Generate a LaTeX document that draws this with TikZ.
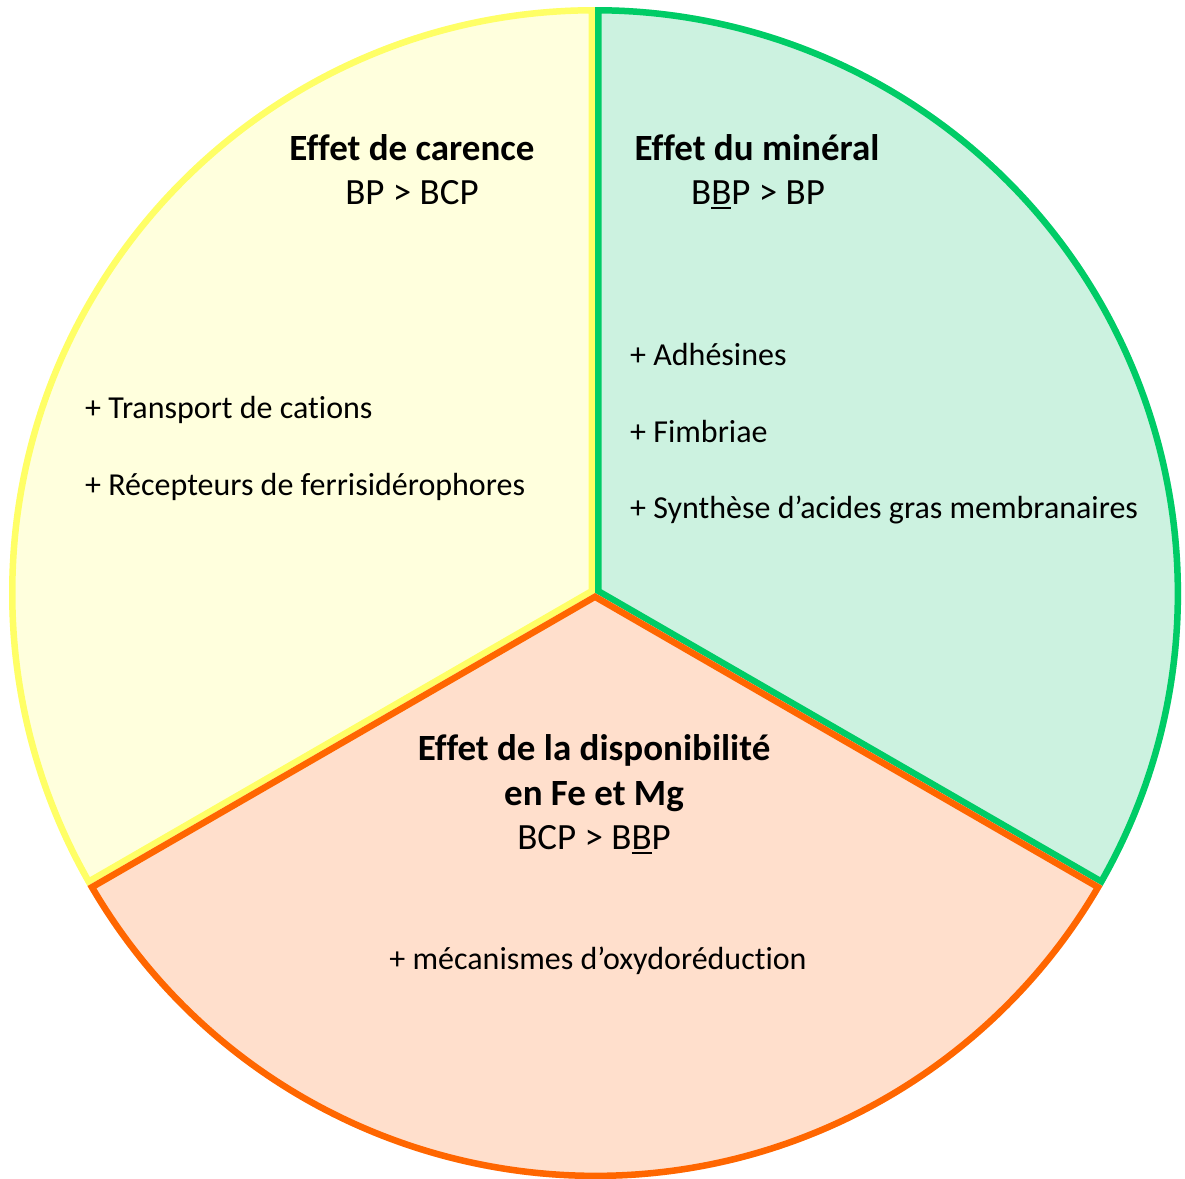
\documentclass[tikz,border=0pt]{standalone}
\usepackage{fontspec}
\setmainfont{Carlito}[Ligatures=NoCommon]
\definecolor{ystroke}{HTML}{FFFF66}
\definecolor{yfill}{HTML}{FFFFDD}
\definecolor{gstroke}{HTML}{00CC66}
\definecolor{gfill}{HTML}{CCF2E0}
\definecolor{ostroke}{HTML}{FF6600}
\definecolor{ofill}{HTML}{FFDFCC}
\newcommand{\ulB}[1]{{\setbox0\hbox{#1}\rlap{\rule[-5pt]{\wd0}{2.6pt}}#1}}
\newcommand{\sectorpath}[2]{(C) -- ++(#1:\R) arc[start angle=#1,end angle=#2,radius=\R] -- cycle}
\newcommand{\drawsector}[4]{%
  \fill[#3] \sectorpath{#1}{#2};
  \begin{scope}
    \clip \sectorpath{#1}{#2};
    \draw[#4,line width=13pt,line join=miter] \sectorpath{#1}{#2};
  \end{scope}}
\begin{document}
\begin{tikzpicture}[x=1pt,y=1pt,
  txt/.style={inner sep=0pt,anchor=mid,font=\fontsize{32}{45}\selectfont},
  big/.style={inner sep=0pt,anchor=mid,font=\fontsize{37}{45}\selectfont},
  ttl/.style={big,font=\fontsize{37}{45}\selectfont\bfseries},
  item/.style={txt,anchor=mid west}]
\useasboundingbox (0,0) rectangle (1185,-1178);
\coordinate (C) at (595,-593);
\def\R{586}
\drawsector{90}{210}{yfill}{ystroke}
\drawsector{-30}{90}{gfill}{gstroke}
\drawsector{210}{330}{ofill}{ostroke}
% yellow
\node[ttl] (t1) at (412,-158) {Effet de carence};
\node[big] (c1) at (412,-202) {BP > BCP};
\node[item] (y1) at (85,-416) {+ Transport de cations};
\node[item] (y2) at (85,-493) {+ Récepteurs de ferrisidérophores};
% green
\node[ttl] (t2) at (757,-158) {Effet du minéral};
\node[big] (c2) at (758,-202) {B\ulB{B}P > BP};
\node[item] (g1) at (630,-363) {+ Adhésines};
\node[item] (g2) at (630,-440) {+ Fimbriae};
\node[item] (g3) at (630,-516) {+ Synthèse d’acides gras membranaires};
% orange
\node[ttl] (t3) at (594,-758) {Effet de la disponibilité};
\node[ttl] (t3b) at (594,-803) {en Fe et Mg};
\node[big] (c3) at (594,-847) {BCP > B\ulB{B}P};
\node[txt] (o1) at (598,-967) {+ mécanismes d’oxydoréduction};
\end{tikzpicture}
\end{document}
